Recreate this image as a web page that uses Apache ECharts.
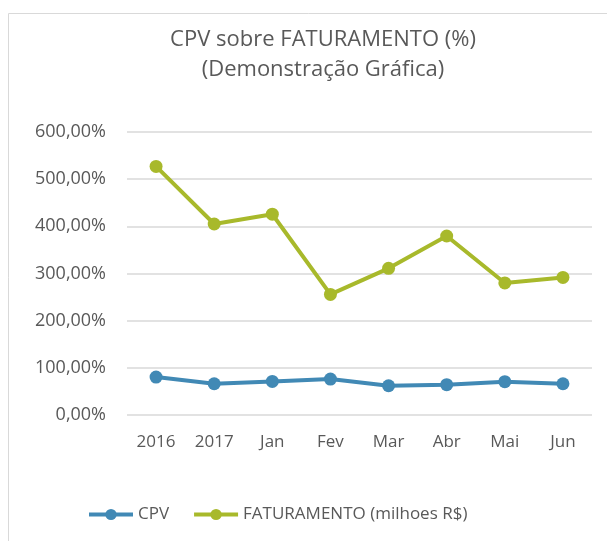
<!DOCTYPE html>
<html lang="pt">
<head>
    <meta charset="UTF-8">
    <title>CPV sobre FATURAMENTO</title>
    <script src="https://cdn.jsdelivr.net/npm/echarts@6/dist/echarts.min.js"></script>
    <style>
        html, body { margin: 0; padding: 0; background: #fff; }
        #main { width: 607px; height: 541px; }
    </style>
</head>
<body>
<div id="main"></div>
<script>
    // dados (em %)
    var categorias = ['2016', '2017', 'Jan', 'Fev', 'Mar', 'Abr', 'Mai', 'Jun'];
    var cpv = [80.4, 66.3, 71.2, 76.1, 62.0, 64.2, 70.6, 66.3];
    var faturamento = [527, 405, 425.7, 255.6, 310.9, 379.5, 280, 291.7];
    var nomes = ['CPV', 'FATURAMENTO (milhoes R$)'];
    var cores = ['#4189b5', '#a8b92b'];

    var myChart = echarts.init(document.getElementById('main'));
    var fonte = '"Open Sans", "Liberation Sans", sans-serif';

    var option = {
        color: cores,
        textStyle: { fontFamily: fonte },
        title: {
            text: 'CPV sobre FATURAMENTO (%)\n(Demonstração Gráfica)',
            left: 318,
            top: 20,
            textAlign: 'center',
            textStyle: {
                fontFamily: fonte,
                fontSize: 22,
                fontWeight: 'normal',
                color: '#595959',
                lineHeight: 30
            }
        },
        graphic: [{
            type: 'rect',
            shape: { x: 8.5, y: 13.5, width: 640, height: 600 },
            style: { fill: 'none', stroke: '#d9d9d9', lineWidth: 1 },
            silent: true
        }],
        legend: {
            data: nomes,
            bottom: 13,
            left: 82,
            itemWidth: 44,
            itemHeight: 14,
            itemGap: 23,
            lineStyle: { width: 4 },
            textStyle: { fontSize: 17, color: '#595959', fontFamily: fonte }
        },
        grid: {
            left: 127,
            right: 15,
            top: 132,
            bottom: 126
        },
        xAxis: {
            type: 'category',
            data: categorias,
            boundaryGap: true,
            axisLine: { show: false },
            axisTick: { show: false },
            axisLabel: { fontSize: 17, color: '#595959', margin: 19, interval: 0 }
        },
        yAxis: {
            type: 'value',
            min: 0,
            max: 600,
            interval: 100,
            axisLine: { show: false },
            axisTick: { show: false },
            splitLine: { lineStyle: { color: '#d9d9d9', width: 1.5 } },
            axisLabel: {
                fontSize: 18,
                color: '#595959',
                margin: 21,
                formatter: function (v) { return v.toFixed(2).replace('.', ',') + '%'; }
            }
        },
        series: [
            {
                name: nomes[0],
                type: 'line',
                data: cpv,
                symbol: 'circle',
                symbolSize: 13,
                lineStyle: { width: 4 },
                animation: false
            },
            {
                name: nomes[1],
                type: 'line',
                data: faturamento,
                symbol: 'circle',
                symbolSize: 13,
                lineStyle: { width: 4 },
                animation: false
            }
        ]
    };
    myChart.setOption(option, true);
</script>
</body>
</html>
